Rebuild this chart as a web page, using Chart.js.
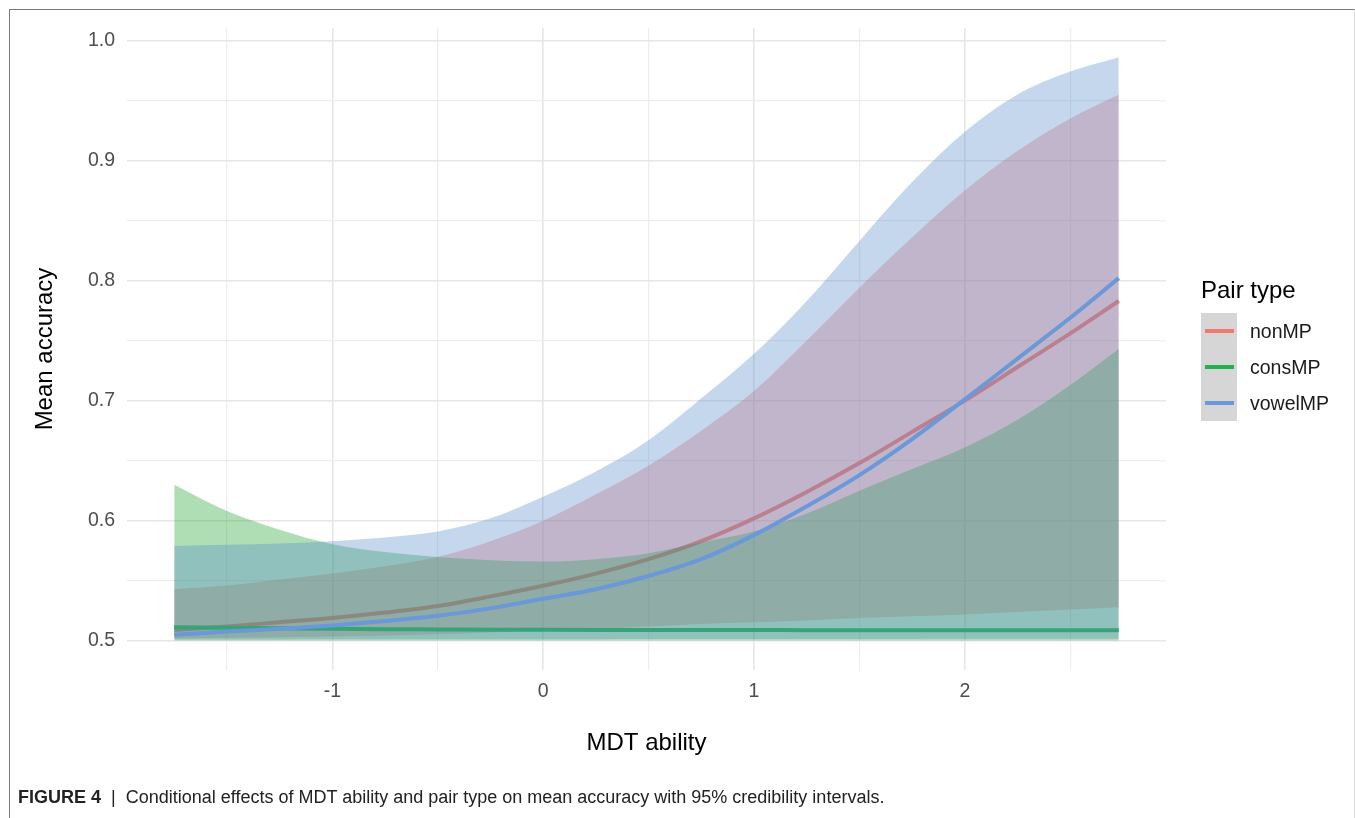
<!DOCTYPE html>
<html>
<head>
<meta charset="utf-8">
<script src="https://cdn.jsdelivr.net/npm/chart.js@4.4.1/dist/chart.umd.min.js"></script>
<style>
html,body{margin:0;padding:0;background:#fff;width:1355px;height:818px;overflow:hidden;font-family:"Liberation Sans",Arial,Helvetica,sans-serif;}
#wrap{position:absolute;left:0;top:0;width:1355px;height:818px;}
#frame{position:absolute;left:9px;top:9px;width:1346px;height:830px;border-top:1.5px solid #7a7a7a;border-left:1.5px solid #7a7a7a;border-right:1px solid #dcdcdc;box-sizing:border-box;pointer-events:none;}
#legend{position:absolute;left:1201px;top:276px;color:#000;}
#legend .ttl{font-size:24px;line-height:28px;height:28px;white-space:nowrap;}
#legend .rows{position:absolute;left:0;top:37px;}
#legend .row{position:relative;height:36px;width:140px;}
#legend .key{position:absolute;left:0;top:0;width:36px;height:36px;background:#d6d6d6;}
#legend .ln{position:absolute;left:4px;top:16px;width:29px;height:4px;}
#legend .lab{position:absolute;left:49px;top:0;font-size:19.5px;line-height:36px;color:#1a1a1a;white-space:nowrap;}
#caption{position:absolute;left:18px;top:785px;font-size:18px;line-height:24px;color:#222;white-space:nowrap;}
#caption b{font-weight:bold;}
</style>
</head>
<body>
<div id="wrap"><canvas id="c"></canvas></div>
<div id="frame"></div>
<div id="legend"></div>
<div id="caption"><b>FIGURE 4</b> &nbsp;|&nbsp; Conditional effects of MDT ability and pair type on mean accuracy with 95% credibility intervals.</div>
<script>
// ---- data ----
const xValues = [-1.75,-1.5,-1.25,-1.0,-0.75,-0.5,-0.25,0,0.25,0.5,0.75,1.0,1.25,1.5,1.75,2.0,2.25,2.5,2.73];

const seriesNames = ["nonMP","consMP","vowelMP"];

const nonMPEst   = [0.509,0.512,0.5155,0.519,0.5235,0.529,0.537,0.5458,0.556,0.568,0.583,0.602,0.624,0.648,0.674,0.700,0.728,0.756,0.783];
const nonMPUpper = [0.543,0.546,0.551,0.556,0.562,0.570,0.583,0.600,0.622,0.646,0.675,0.708,0.750,0.794,0.836,0.875,0.908,0.935,0.955];
const nonMPLower = [0.502,0.5025,0.503,0.5035,0.5045,0.5055,0.507,0.5085,0.510,0.512,0.514,0.5155,0.517,0.519,0.5205,0.522,0.524,0.526,0.528];

const consMPEst   = [0.5112,0.5108,0.5104,0.5100,0.5097,0.5095,0.5093,0.5092,0.5091,0.5090,0.5090,0.5090,0.5089,0.5089,0.5089,0.5088,0.5088,0.5088,0.5088];
const consMPUpper = [0.630,0.608,0.5925,0.5805,0.574,0.5697,0.567,0.566,0.568,0.573,0.582,0.591,0.606,0.625,0.643,0.661,0.684,0.713,0.743];
const consMPLower = [0.5003,0.5003,0.5003,0.5003,0.5003,0.5003,0.5003,0.5003,0.5003,0.5003,0.5003,0.5003,0.5003,0.5003,0.5003,0.5003,0.5003,0.5003,0.5003];

const vowelMPEst   = [0.505,0.5078,0.510,0.5128,0.5165,0.5208,0.527,0.535,0.543,0.554,0.568,0.588,0.612,0.638,0.668,0.701,0.735,0.769,0.802];
const vowelMPUpper = [0.579,0.580,0.581,0.583,0.586,0.591,0.602,0.620,0.641,0.667,0.702,0.739,0.783,0.833,0.882,0.924,0.955,0.974,0.986];
const vowelMPLower = [0.5012,0.5012,0.5012,0.5013,0.5013,0.5013,0.5014,0.5014,0.5014,0.5015,0.5015,0.5015,0.5016,0.5016,0.5016,0.5017,0.5017,0.5018,0.5018];

const xGrid = [-1.5,-1,-0.5,0,0.5,1,1.5,2,2.5];
const yGrid = [0.5,0.55,0.6,0.65,0.7,0.75,0.8,0.85,0.9,0.95,1.0];

// ---- styling ----
const lineColors = ["#F07A70","#22B24C","#6A98D8"];
const fillColors = ["rgba(235,110,105,0.35)","rgba(30,160,40,0.35)","rgba(89,141,204,0.35)"];

const estArr = [nonMPEst, consMPEst, vowelMPEst];
const upArr  = [nonMPUpper, consMPUpper, vowelMPUpper];
const loArr  = [nonMPLower, consMPLower, vowelMPLower];

function pts(arr){ return xValues.map((x,i)=>({x:x,y:arr[i]})); }

const datasets = [];
seriesNames.forEach((name,k)=>{
  const base = datasets.length;
  datasets.push({label:name+" upper", data:pts(upArr[k]), borderWidth:0, pointRadius:0, fill:false,
    borderColor:"rgba(0,0,0,0)", cubicInterpolationMode:"monotone", order:100-base});
  datasets.push({label:name+" lower", data:pts(loArr[k]), borderWidth:0, pointRadius:0,
    borderColor:"rgba(0,0,0,0)", backgroundColor:fillColors[k], fill:{target:base},
    cubicInterpolationMode:"monotone", order:99-base});
  datasets.push({label:name, data:pts(estArr[k]), borderWidth:4, pointRadius:0, fill:false,
    borderColor:lineColors[k], cubicInterpolationMode:"monotone", order:98-base, borderCapStyle:"butt"});
});

const isMajorY = v => Math.abs(v*10 - Math.round(v*10)) < 1e-6;
const isMajorX = v => Math.abs(v - Math.round(v)) < 1e-6;

const cv = document.getElementById("c");
const ctx2d = cv.getContext("2d", { willReadFrequently: true });

new Chart(ctx2d, {
  type: "line",
  data: { datasets: datasets },
  options: {
    responsive: true,
    maintainAspectRatio: false,
    animation: false,
    layout: { padding: { top: 28, right: 189, left: 0, bottom: 0 } },
    plugins: { legend: { display: false }, tooltip: { enabled: false }, filler: { drawTime: "beforeDatasetDraw" } },
    scales: {
      x: {
        type: "linear", min: -1.974, max: 2.954,
        afterBuildTicks: s => { s.ticks = xGrid.map(v => ({value: v})); },
        afterFit: s => { s.height = 148; },
        border: { display: false },
        grid: { drawTicks: false, color: c => (c.tick && isMajorX(c.tick.value)) ? "#E6E6E6" : "#EDEDED",
                lineWidth: c => (c.tick && isMajorX(c.tick.value)) ? 1.6 : 1.2 },
        ticks: { autoSkip: false, maxRotation: 0, padding: 10, color: "#4D4D4D",
                 font: { family: "Liberation Sans", size: 19.5 },
                 callback: v => isMajorX(v) ? String(Math.round(v)) : "" },
        title: { display: true, text: "MDT ability", color: "#000",
                 font: { family: "Liberation Sans", size: 24 }, padding: { bottom: 60.6, top: 0 } }
      },
      y: {
        type: "linear", min: 0.4757, max: 1.0103,
        afterBuildTicks: s => { s.ticks = yGrid.map(v => ({value: v})); },
        afterFit: s => { s.width = 127; },
        border: { display: false },
        grid: { drawTicks: false, color: c => (c.tick && isMajorY(c.tick.value)) ? "#E6E6E6" : "#EDEDED",
                lineWidth: c => (c.tick && isMajorY(c.tick.value)) ? 1.6 : 1.2 },
        ticks: { autoSkip: false, padding: 12, color: "#4D4D4D",
                 font: { family: "Liberation Sans", size: 19.5 },
                 callback: v => isMajorY(v) ? v.toFixed(1) : "" },
        title: { display: true, text: "Mean accuracy", color: "#000",
                 font: { family: "Liberation Sans", size: 24 }, padding: { top: 30.6, bottom: 0 } }
      }
    }
  }
});

// ---- legend ----
const lg = document.getElementById("legend");
const ttl = document.createElement("div"); ttl.className = "ttl"; ttl.textContent = "Pair type"; lg.appendChild(ttl);
const rows = document.createElement("div"); rows.className = "rows"; lg.appendChild(rows);
seriesNames.forEach((n,k)=>{
  const r = document.createElement("div"); r.className = "row";
  const key = document.createElement("div"); key.className = "key";
  const ln = document.createElement("div"); ln.className = "ln"; ln.style.background = lineColors[k];
  key.appendChild(ln);
  const lab = document.createElement("div"); lab.className = "lab"; lab.textContent = n;
  r.appendChild(key); r.appendChild(lab); rows.appendChild(r);
});
</script>
</body>
</html>
